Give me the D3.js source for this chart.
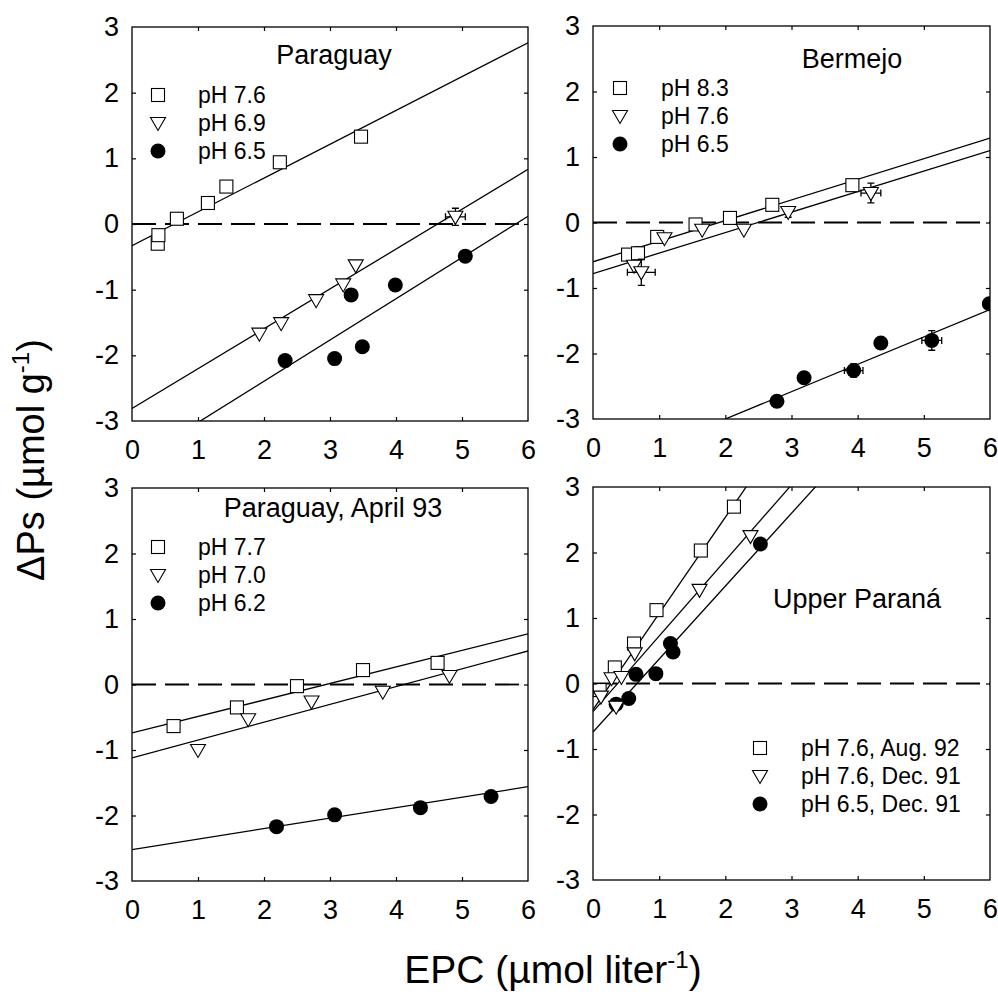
<!DOCTYPE html>
<html>
<head>
<meta charset="utf-8">
<script src="https://cdn.jsdelivr.net/npm/d3@7"></script>
<style>
  body { margin: 0; background: #fff; }
  text { font-family: "Liberation Sans", Arial, sans-serif; fill: #000; }
</style>
</head>
<body>
<svg id="chart" width="998" height="996"></svg>
<script>
// axis ticks
var xTickVals = [0, 1, 2, 3, 4, 5, 6];
var yTickVals = [-3, -2, -1, 0, 1, 2, 3];
var xInnerTicks = [1, 2, 3, 4, 5];
var yInnerTicks = [-2, -1, 0, 1, 2];

var panelTitles = ["Paraguay", "Bermejo", "Paraguay, April 93", "Upper Paraná"];
var legendText = [
    ["pH 7.6", "pH 6.9", "pH 6.5"],
    ["pH 8.3", "pH 7.6", "pH 6.5"],
    ["pH 7.7", "pH 7.0", "pH 6.2"],
    ["pH 7.6, Aug. 92", "pH 7.6, Dec. 91", "pH 6.5, Dec. 91"]
];

// points: [EPC, dPs, xErr, yErr]
var paraguaySq  = [[0.39,-0.30],[0.40,-0.17],[0.68,0.08],[1.15,0.32],[1.43,0.57],[2.24,0.94],[3.47,1.33]];
var paraguayTri = [[1.93,-1.67],[2.26,-1.51],[2.79,-1.16],[3.20,-0.92],[3.39,-0.63],[4.90,0.11,0.15,0.13]];
var paraguayDot = [[2.32,-2.08],[3.07,-2.05],[3.32,-1.08],[3.49,-1.87],[3.99,-0.93],[5.05,-0.49]];

var bermejoSq  = [[0.53,-0.49],[0.68,-0.47,0,0.1],[0.97,-0.22],[1.55,-0.03],[2.07,0.07],[2.71,0.27],[3.92,0.57]];
var bermejoTri = [[0.62,-0.66],[0.73,-0.76,0.21,0.2],[1.08,-0.24],[1.65,-0.11],[2.28,-0.11],[2.95,0.16,0,0.08],[4.20,0.45,0.15,0.15]];
var bermejoDot = [[2.78,-2.73,0.08,0.08],[3.19,-2.37],[3.94,-2.26,0.14,0.1],[4.35,-1.84],[5.12,-1.80,0.15,0.15],[5.99,-1.24]];

var april93Sq  = [[0.63,-0.635],[1.59,-0.35],[2.50,-0.025],[3.50,0.22],[4.63,0.33]];
var april93Tri = [[1.00,-1.00],[1.76,-0.53],[2.72,-0.26],[3.80,-0.11],[4.81,0.13]];
var april93Dot = [[2.19,-2.17],[3.07,-1.99],[4.37,-1.88],[5.44,-1.71]];

var upperSq  = [[0.10,-0.10],[0.33,0.245],[0.62,0.61],[0.96,1.12],[1.63,2.03],[2.13,2.70]];
var upperTri = [[0.12,-0.20],[0.28,0.08],[0.43,0.10],[0.35,-0.355],[0.63,0.46],[1.61,1.43],[2.38,2.25]];
var upperDot = [[0.35,-0.315],[0.54,-0.23],[0.65,0.14],[0.95,0.15],[1.17,0.61],[1.21,0.48],[2.53,2.13]];

// regression lines: [intercept, slope]
var paraguayFit = [[-0.33,0.515],[-2.81,0.607],[-3.65,0.628]];
var bermejoFit  = [[-0.60,0.315],[-0.78,0.313],[-3.835,0.4175]];
var april93Fit  = [[-0.74,0.252],[-1.12,0.272],[-2.52,0.16]];
var upperFit    = [[-0.40,1.469],[-0.43,1.154],[-0.74,1.113]];

var panelSeries = [
    [paraguaySq, paraguayTri, paraguayDot],
    [bermejoSq, bermejoTri, bermejoDot],
    [april93Sq, april93Tri, april93Dot],
    [upperSq, upperTri, upperDot]
];
var panelFits = [paraguayFit, bermejoFit, april93Fit, upperFit];

// layout
var panelBox = [
    {x0:132, x1:528, y0:27,  y1:421, tx:334, ty:64,  lx:158, ltx:198, ly:95},
    {x0:593, x1:990, y0:26,  y1:419, tx:852, ty:68,  lx:620, ltx:661, ly:88},
    {x0:132, x1:528, y0:488, y1:881, tx:333, ty:517, lx:158, ltx:198, ly:547},
    {x0:593, x1:990, y0:487, y1:880, tx:857, ty:608, lx:760, ltx:801, ly:748}
];
var LEG_STEP = 28;
var TICK_FONT = "27px";
var LEG_FONT = "23px";
var TITLE_FONT = "27px";
var LNE_W = 1.3;

var svg = d3.select("#chart");

function draw_symbol(g, kind, cx, cy) {
    if (kind == 0) {
        g.append("rect")
            .attr("x", cx - 6.5).attr("y", cy - 6.5)
            .attr("width", 13).attr("height", 13)
            .style("fill", "#fff").style("stroke", "#000").style("stroke-width", 1.1);
    }
    else if (kind == 1) {
        g.append("path")
            .attr("d", "M" + (cx - 7.5) + "," + (cy - 5.5) + "L" + (cx + 7.5) + "," + (cy - 5.5) + "L" + cx + "," + (cy + 7.5) + "Z")
            .style("fill", "#fff").style("stroke", "#000").style("stroke-width", 1.1);
    }
    else {
        g.append("circle")
            .attr("cx", cx).attr("cy", cy).attr("r", 7.5)
            .style("fill", "#000");
    }
}

function error_bars(g, d, sx, sy) {
    var cx = sx(d[0]), cy = sy(d[1]);
    if (d[2]) {
        var xa = sx(d[0] - d[2]), xb = sx(d[0] + d[2]);
        g.append("path")
            .attr("d", "M" + xa + "," + cy + "H" + xb + "M" + xa + "," + (cy - 3.5) + "V" + (cy + 3.5) + "M" + xb + "," + (cy - 3.5) + "V" + (cy + 3.5))
            .style("stroke", "#000").style("stroke-width", 1.3).style("fill", "none");
    }
    if (d[3]) {
        var ya = sy(d[1] - d[3]), yb = sy(d[1] + d[3]);
        g.append("path")
            .attr("d", "M" + cx + "," + ya + "V" + yb + "M" + (cx - 3.5) + "," + ya + "H" + (cx + 3.5) + "M" + (cx - 3.5) + "," + yb + "H" + (cx + 3.5))
            .style("stroke", "#000").style("stroke-width", 1.3).style("fill", "none");
    }
}

function plot_panel(p) {
    var box = panelBox[p];
    var sx = d3.scaleLinear().domain([0, 6]).range([box.x0, box.x1]);
    var sy = d3.scaleLinear().domain([-3, 3]).range([box.y1, box.y0]);

    var g = svg.append("g");

    svg.append("clipPath").attr("id", "clip" + p)
        .append("rect")
        .attr("x", box.x0).attr("y", box.y0)
        .attr("width", box.x1 - box.x0).attr("height", box.y1 - box.y0);

    var inner = g.append("g").attr("clip-path", "url(#clip" + p + ")");

    // zero line
    inner.append("line")
        .attr("x1", sx(0)).attr("x2", sx(6))
        .attr("y1", sy(0)).attr("y2", sy(0))
        .style("stroke", "#000").style("stroke-width", 1.8)
        .style("stroke-dasharray", "24,9");

    // fitted lines
    panelFits[p].forEach(function(f) {
        inner.append("line")
            .attr("x1", sx(0)).attr("y1", sy(f[0]))
            .attr("x2", sx(6)).attr("y2", sy(f[0] + 6 * f[1]))
            .style("stroke", "#000").style("stroke-width", LNE_W);
    });

    // points: dots first, then squares, then triangles
    [2, 0, 1].forEach(function(k) {
        panelSeries[p][k].forEach(function(d) {
            error_bars(inner, d, sx, sy);
            draw_symbol(inner, k, sx(d[0]), sy(d[1]));
        });
    });

    // frame
    g.append("rect")
        .attr("x", box.x0).attr("y", box.y0)
        .attr("width", box.x1 - box.x0).attr("height", box.y1 - box.y0)
        .style("fill", "none").style("stroke", "#000").style("stroke-width", LNE_W);

    // inner ticks on all four sides
    var tickAxes = [
        [d3.axisBottom(sx).tickValues(xInnerTicks), "translate(0," + box.y1 + ")"],
        [d3.axisTop(sx).tickValues(xInnerTicks), "translate(0," + box.y0 + ")"],
        [d3.axisLeft(sy).tickValues(yInnerTicks), "translate(" + box.x0 + ",0)"],
        [d3.axisRight(sy).tickValues(yInnerTicks), "translate(" + box.x1 + ",0)"]
    ];
    tickAxes.forEach(function(a) {
        var ag = g.append("g").attr("transform", a[1])
            .call(a[0].tickSize(-4).tickFormat(""));
        ag.select(".domain").remove();
        ag.selectAll("line").style("stroke-width", 1.2);
    });

    // tick labels
    var xLab = g.append("g").attr("transform", "translate(0," + box.y1 + ")")
        .call(d3.axisBottom(sx).tickValues(xTickVals).tickSize(0).tickPadding(19).tickFormat(d3.format("d")));
    var yLab = g.append("g").attr("transform", "translate(" + box.x0 + ",0)")
        .call(d3.axisLeft(sy).tickValues(yTickVals).tickSize(0).tickPadding(13).tickFormat(function(d) { return d < 0 ? "-" + (-d) : d; }));
    [xLab, yLab].forEach(function(ag) {
        ag.select(".domain").remove();
        ag.attr("font-family", null).attr("font-size", null);
        ag.selectAll("text").style("font-size", TICK_FONT).style("fill", "#000");
    });

    // panel title
    g.append("text")
        .attr("x", box.tx).attr("y", box.ty)
        .attr("text-anchor", "middle")
        .style("font-size", TITLE_FONT)
        .text(panelTitles[p]);

    // legend
    legendText[p].forEach(function(t, i) {
        var yy = box.ly + i * LEG_STEP;
        draw_symbol(g, i, box.lx, yy);
        g.append("text")
            .attr("x", box.ltx).attr("y", yy + 8)
            .style("font-size", LEG_FONT)
            .text(t);
    });
}

for (var p = 0; p < 4; p++) plot_panel(p);

// axis titles
var yTitle = svg.append("text")
    .attr("transform", "translate(44,460) rotate(-90)")
    .attr("text-anchor", "middle")
    .style("font-size", "38px");
yTitle.append("tspan").text("ΔPs (µmol g");
yTitle.append("tspan").attr("dy", -15).style("font-size", "24px").text("-1");
yTitle.append("tspan").attr("dy", 15).text(")");

var xTitle = svg.append("text")
    .attr("x", 553).attr("y", 983)
    .attr("text-anchor", "middle")
    .style("font-size", "39px");
xTitle.append("tspan").text("EPC (µmol liter");
xTitle.append("tspan").attr("dy", -15).style("font-size", "24px").text("-1");
xTitle.append("tspan").attr("dy", 15).text(")");
</script>
</body>
</html>
